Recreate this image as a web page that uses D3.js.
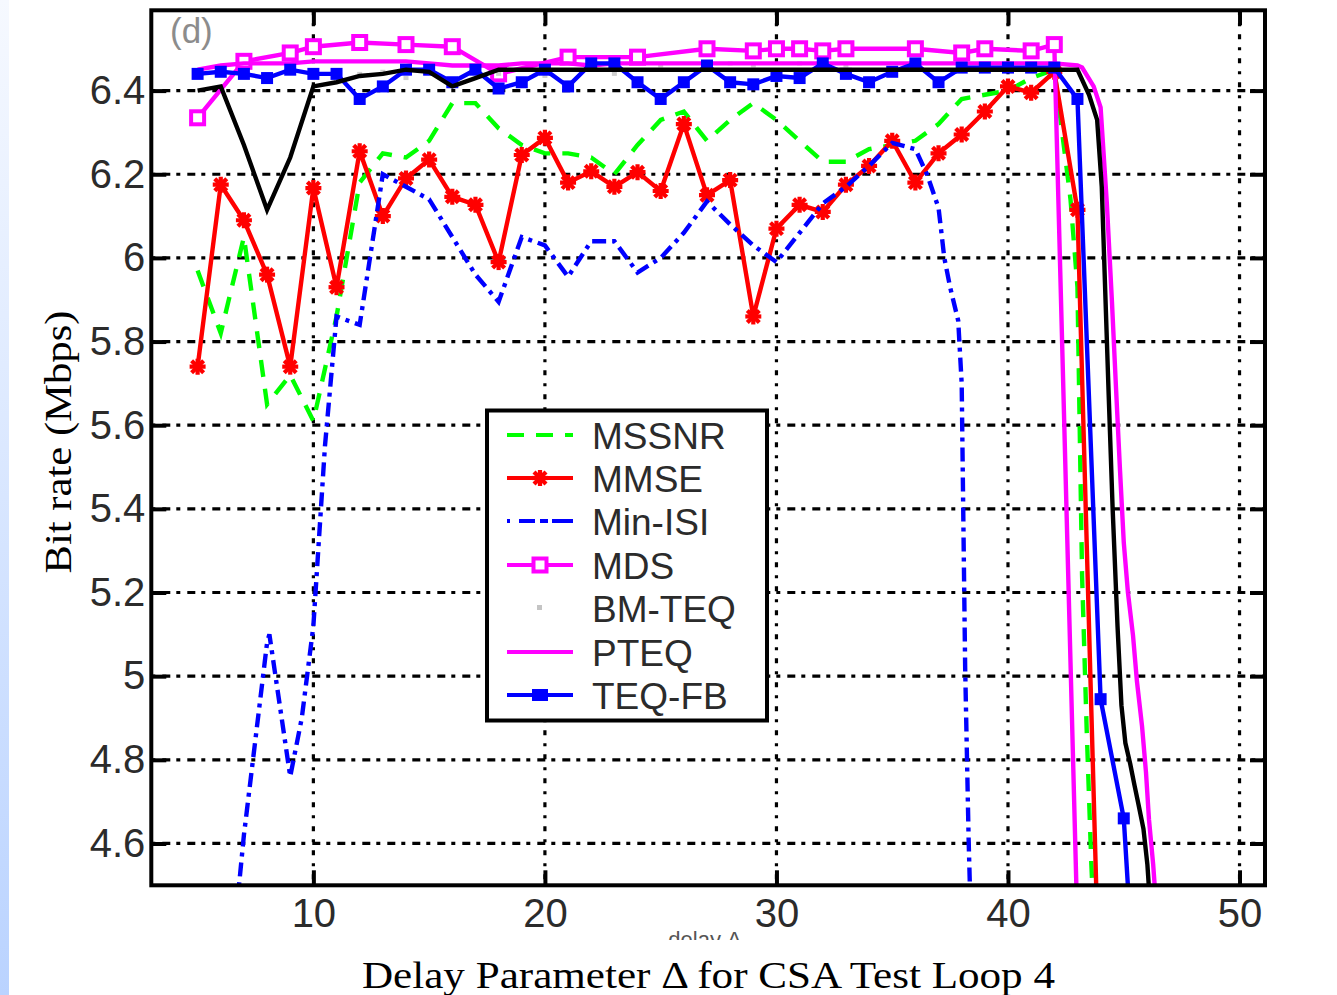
<!DOCTYPE html>
<html><head><meta charset="utf-8">
<script src="https://cdn.jsdelivr.net/npm/d3@7"></script>
<style>body{margin:0;background:#fff}svg{display:block}</style>
</head><body>
<svg id="chart" width="1337" height="995"></svg>
<script>
// Axis ticks
const xTicks = [10, 20, 30, 40, 50];
const yTicks = [4.6, 4.8, 5.0, 5.2, 5.4, 5.6, 5.8, 6.0, 6.2, 6.4];
const yTickLabels = ['4.6', '4.8', '5', '5.2', '5.4', '5.6', '5.8', '6', '6.2', '6.4'];

// Bit rate (Mbps) versus delay parameter, one array of [delay, rate] per equalizer
const mssnr = [[5,5.97],[6,5.82],[7,6.05],[8,5.65],[9,5.72],[10,5.61],[11,5.86],[12,6.18],[13,6.25],[14,6.24],
  [15,6.28],[16,6.37],[17,6.37],[18,6.31],[19,6.27],[20,6.25],[21,6.25],[22,6.24],[23,6.2],[24,6.27],[25,6.33],
  [26,6.35],[27,6.28],[28,6.33],[29,6.37],[30,6.33],[31,6.28],[32,6.23],[33,6.23],[34,6.26],[35,6.27],[36,6.28],
  [37,6.32],[38,6.38],[39,6.39],[40,6.40],[41,6.43],[42,6.45],[42.7,6.14],[43,5.93],[43.2,5.24],[43.4,4.87],
  [43.6,4.55],[43.8,4.3]];

const mmse = [[5,5.74],[6,6.175],[7,6.09],[8,5.96],[9,5.74],[10,6.167],[11,5.93],[12,6.255],[13,6.10],[14,6.19],
  [15,6.235],[16,6.146],[17,6.127],[18,5.99],[19,6.246],[20,6.287],[21,6.18],[22,6.207],[23,6.17],[24,6.205],
  [25,6.16],[26,6.32],[27,6.15],[28,6.186],[29,5.86],[30,6.07],[31,6.127],[32,6.11],[33,6.175],[34,6.22],
  [35,6.28],[36,6.18],[37,6.25],[38,6.295],[39,6.35],[40,6.41],[41,6.395],[42,6.445],[43,6.115],[44,4.12]];

const minIsi = [[6.7,4.45],[7,4.62],[8,5.08],[8.1,5.1],[9,4.76],[9.5,4.9],[10,5.12],[10.5,5.55],[11,5.86],[12,5.84],
  [13,6.2],[14,6.17],[15,6.14],[16,6.05],[17,5.96],[18,5.895],[19,6.05],[20,6.03],[21,5.955],[22,6.04],[23,6.04],
  [24,5.965],[25,6.0],[26,6.06],[27,6.135],[28,6.08],[29,6.03],[30,5.99],[31,6.06],[32,6.13],[33,6.17],[34,6.22],
  [35,6.275],[36,6.26],[36.5,6.2],[37,6.12],[37.25,6.0],[37.5,5.93],[37.85,5.85],[38,5.7],[38.15,5.02],
  [38.3,4.61],[38.45,4.3]];

const mds = [[5,6.335],[7,6.47],[9,6.49],[10,6.505],[12,6.515],[14,6.51],[16,6.505],[18,6.44],[21,6.48],
  [24,6.48],[27,6.5],[29,6.495],[30,6.5],[31,6.5],[32,6.495],[33,6.5],[36,6.5],[38,6.49],[39,6.5],[41,6.495],
  [42,6.51],[43,4.4]];

const bmTeq = [[12,6.44],[13,6.445],[14,6.43],[18,6.44],[20,6.435],[21,6.465],[23,6.44],[25,6.46],[28,6.465],
  [29,6.46],[31,6.465],[33,6.46]];

const pteq = [[5,6.45],[6,6.46],[7,6.465],[8,6.465],[9,6.465],[10,6.47],[11,6.47],[12,6.47],[13,6.47],[14,6.47],
  [15,6.465],[16,6.46],[17,6.46],[18,6.46],[19,6.465],[20,6.465],[21,6.465],[22,6.46],[23,6.465],[24,6.465],
  [25,6.465],[26,6.465],[27,6.465],[28,6.465],[29,6.465],[30,6.465],[31,6.465],[32,6.465],[33,6.465],[34,6.465],
  [35,6.465],[36,6.465],[37,6.465],[38,6.465],[39,6.465],[40,6.465],[41,6.465],[42,6.465],[43,6.46],[43.2,6.455],
  [43.7,6.41],[44,6.36],[44.27,6.13],[44.49,5.895],[44.66,5.695],[44.84,5.49],[45,5.32],[45.18,5.2],[45.4,5.097],
  [45.57,4.987],[45.79,4.88],[45.96,4.77],[46.09,4.657],[46.27,4.55],[46.4,4.45]];

const teqFb = [[5,6.44],[6,6.445],[7,6.44],[8,6.43],[9,6.45],[10,6.44],[11,6.44],[12,6.38],[13,6.41],[14,6.45],
  [15,6.45],[16,6.42],[17,6.45],[18,6.405],[19,6.42],[20,6.45],[21,6.41],[22,6.465],[23,6.465],[24,6.42],
  [25,6.38],[26,6.42],[27,6.46],[28,6.42],[29,6.415],[30,6.435],[31,6.43],[32,6.465],[33,6.44],[34,6.42],
  [35,6.445],[36,6.465],[37,6.42],[38,6.455],[39,6.455],[40,6.455],[41,6.455],[42,6.455],[43,6.38],[44,4.945],
  [45,4.66],[46,3.76]];

const bound = [[5,6.40],[6,6.41],[7,6.27],[8,6.115],[9,6.24],[10,6.41],[11,6.42],[12,6.435],[13,6.44],[14,6.45],
  [15,6.445],[16,6.41],[17,6.43],[18,6.45],[19,6.45],[20,6.45],[21,6.45],[22,6.45],[23,6.45],[24,6.45],[25,6.45],
  [26,6.45],[27,6.45],[28,6.45],[29,6.45],[30,6.45],[31,6.45],[32,6.45],[33,6.45],[34,6.45],[35,6.45],[36,6.45],
  [37,6.45],[38,6.45],[39,6.45],[40,6.45],[41,6.45],[42,6.45],[43,6.45],[43.5,6.39],[43.85,6.33],[44.05,6.17],
  [44.35,5.67],[44.52,5.40],[44.73,5.12],[44.9,4.93],[45.07,4.84],[45.28,4.79],[45.46,4.74],[45.63,4.695],
  [45.85,4.635],[46.02,4.55],[46.2,4.4]];

const legendNames = ['MSSNR', 'MMSE', 'Min-ISI', 'MDS', 'BM-TEQ', 'PTEQ', 'TEQ-FB'];

const GREEN = '#00ff00', RED = '#ff0000', BLUE = '#0000ff', MAGENTA = '#ff00ff';
const LW = 4.4;

const svg = d3.select('#chart');
const defs = svg.append('defs');

// pale blue strip down the left edge
const grad = defs.append('linearGradient').attr('id', 'edge').attr('x1', 0).attr('y1', 0).attr('x2', 0).attr('y2', 1);
grad.append('stop').attr('offset', '0%').attr('stop-color', '#f6f9ff');
grad.append('stop').attr('offset', '100%').attr('stop-color', '#bad3ff');
svg.append('rect').attr('x', 0).attr('y', 0).attr('width', 9).attr('height', 995).attr('fill', 'url(#edge)');

const P = {left: 151.3, right: 1265, top: 10.3, bottom: 885.3};
const x = d3.scaleLinear().domain([3, 51.1]).range([P.left, P.right]);
const y = d3.scaleLinear().domain([4.5, 6.592]).range([P.bottom, P.top]);

defs.append('clipPath').attr('id', 'plotClip').append('rect')
  .attr('x', P.left).attr('y', P.top).attr('width', P.right - P.left).attr('height', P.bottom - P.top);
defs.append('clipPath').attr('id', 'capClip').append('rect')
  .attr('x', 320).attr('y', 931).attr('width', 800).attr('height', 9);

// dotted grid
const grid = svg.append('g').attr('stroke', '#000').attr('stroke-width', 3.2);
grid.selectAll('.hg').data(yTicks).join('line')
  .attr('x1', P.left).attr('x2', P.right).attr('y1', d => y(d)).attr('y2', d => y(d))
  .attr('stroke-dasharray', '4,7,8,6');
grid.selectAll('.vg').data(xTicks).join('line')
  .attr('y1', P.top).attr('y2', P.bottom).attr('x1', d => x(d)).attr('x2', d => x(d))
  .attr('stroke-dasharray', '5,8,3,8');

const plot = svg.append('g').attr('clip-path', 'url(#plotClip)');
const line = d3.line().x(d => x(d[0])).y(d => y(d[1]));

function drawLine(data, color, dash, width) {
  plot.append('path').datum(data).attr('d', line).attr('fill', 'none')
    .attr('stroke', color).attr('stroke-width', width || LW)
    .attr('stroke-linejoin', 'miter').attr('stroke-dasharray', dash || null);
}

function asterisk(g, cx, cy, r, color) {
  const a = g.append('g').attr('transform', `translate(${cx},${cy})`)
    .attr('stroke', color).attr('stroke-width', 4.2);
  [[-r, 0, r, 0], [0, -r, 0, r], [-r * 0.75, -r * 0.75, r * 0.75, r * 0.75], [-r * 0.75, r * 0.75, r * 0.75, -r * 0.75]]
    .forEach(s => a.append('line').attr('x1', s[0]).attr('y1', s[1]).attr('x2', s[2]).attr('y2', s[3]));
}

// MSSNR
drawLine(mssnr, GREEN, '17,12');
// MMSE
drawLine(mmse, RED);
mmse.filter(d => Number.isInteger(d[0])).forEach(d => asterisk(plot, x(d[0]), y(d[1]), 8, RED));
// Min-ISI
drawLine(minIsi, BLUE, '14,6,4,6');
// MDS
drawLine(mds, MAGENTA);
plot.selectAll('.mdsm').data(mds).join('rect')
  .attr('x', d => x(d[0]) - 6.5).attr('y', d => y(d[1]) - 6.5).attr('width', 13).attr('height', 13)
  .attr('fill', '#fff').attr('stroke', MAGENTA).attr('stroke-width', 4);
// BM-TEQ
plot.selectAll('.bm').data(bmTeq).join('rect')
  .attr('x', d => x(d[0]) - 2.5).attr('y', d => y(d[1]) - 2).attr('width', 5).attr('height', 4)
  .attr('fill', '#cfcfcf');
// PTEQ
drawLine(pteq, MAGENTA);
// TEQ-FB
drawLine(teqFb, BLUE);
plot.selectAll('.fbm').data(teqFb.filter(d => Number.isInteger(d[0]))).join('rect')
  .attr('x', d => x(d[0]) - 6).attr('y', d => y(d[1]) - 6).attr('width', 12).attr('height', 12)
  .attr('fill', BLUE);
// upper curve
drawLine(bound, '#000');

// axes with inward ticks
const tickFont = 'Liberation Sans, Arial, sans-serif';
const yAxis = svg.append('g').attr('transform', `translate(${P.left},0)`)
  .call(d3.axisLeft(y).tickValues(yTicks).tickSize(-15).tickPadding(6)
    .tickFormat((d, i) => yTickLabels[i]));
const yAxisR = svg.append('g').attr('transform', `translate(${P.right},0)`)
  .call(d3.axisRight(y).tickValues(yTicks).tickSize(-15).tickFormat(''));
const xAxis = svg.append('g').attr('transform', `translate(0,${P.bottom})`)
  .call(d3.axisBottom(x).tickValues(xTicks).tickSize(-15).tickPadding(13).tickFormat(d3.format('d')));
const xAxisT = svg.append('g').attr('transform', `translate(0,${P.top})`)
  .call(d3.axisTop(x).tickValues(xTicks).tickSize(-15).tickFormat(''));
[yAxis, yAxisR, xAxis, xAxisT].forEach(a => {
  a.select('.domain').remove();
  a.selectAll('.tick line').attr('stroke', '#000').attr('stroke-width', 4);
  a.selectAll('text').attr('font-family', tickFont).attr('font-size', 40).attr('fill', '#2b2b2b');
});

// frame
svg.append('rect').attr('x', P.left).attr('y', P.top).attr('width', P.right - P.left).attr('height', P.bottom - P.top)
  .attr('fill', 'none').attr('stroke', '#000').attr('stroke-width', 4);

// panel tag
svg.append('text').attr('x', 170).attr('y', 43).attr('font-family', tickFont).attr('font-size', 35)
  .attr('fill', '#8c8c8c').text('(d)');

// legend
const L = {x: 487, y: 410.5, w: 280, h: 310};
const lg = svg.append('g');
lg.append('rect').attr('x', L.x).attr('y', L.y).attr('width', L.w).attr('height', L.h)
  .attr('fill', '#fff').attr('stroke', '#000').attr('stroke-width', 4);
const rowY = [435, 478, 521, 565, 608, 652, 695];
const lx1 = 507, lx2 = 573, lmid = 540;
legendNames.forEach((name, i) => {
  const yy = rowY[i];
  if (name === 'MSSNR') lg.append('line').attr('x1', lx1).attr('x2', lx2).attr('y1', yy).attr('y2', yy)
    .attr('stroke', GREEN).attr('stroke-width', 4).attr('stroke-dasharray', '17,12');
  if (name === 'MMSE') {
    lg.append('line').attr('x1', lx1).attr('x2', lx2).attr('y1', yy).attr('y2', yy).attr('stroke', RED).attr('stroke-width', 4);
    asterisk(lg, lmid, yy, 8, RED);
  }
  if (name === 'Min-ISI') lg.append('line').attr('x1', lx1).attr('x2', lx2).attr('y1', yy).attr('y2', yy)
    .attr('stroke', BLUE).attr('stroke-width', 4).attr('stroke-dasharray', '3,9,16,5,8,4,22');
  if (name === 'MDS') {
    lg.append('line').attr('x1', lx1).attr('x2', lx2).attr('y1', yy).attr('y2', yy).attr('stroke', MAGENTA).attr('stroke-width', 4);
    lg.append('rect').attr('x', lmid - 6.5).attr('y', yy - 6.5).attr('width', 13).attr('height', 13)
      .attr('fill', '#fff').attr('stroke', MAGENTA).attr('stroke-width', 4);
  }
  if (name === 'BM-TEQ') lg.append('rect').attr('x', lmid - 3).attr('y', yy - 3).attr('width', 5).attr('height', 5).attr('fill', '#c4c4c4');
  if (name === 'PTEQ') lg.append('line').attr('x1', lx1).attr('x2', lx2).attr('y1', yy).attr('y2', yy).attr('stroke', MAGENTA).attr('stroke-width', 4);
  if (name === 'TEQ-FB') {
    lg.append('line').attr('x1', lx1).attr('x2', lx2).attr('y1', yy).attr('y2', yy).attr('stroke', BLUE).attr('stroke-width', 4);
    lg.append('rect').attr('x', lmid - 8).attr('y', yy - 6).attr('width', 16).attr('height', 12).attr('fill', BLUE);
  }
  lg.append('text').attr('x', 592).attr('y', yy + 13.5).attr('font-family', tickFont).attr('font-size', 37)
    .attr('fill', '#2b2b2b').text(name);
});

// older axis caption: only the tops of its letters show above the typeset caption
svg.append('text').attr('x', 705).attr('y', 947).attr('text-anchor', 'middle').attr('font-family', tickFont)
  .attr('font-size', 22).attr('fill', '#555').attr('clip-path', 'url(#capClip)').text('delay Δ');

// axis titles
const serif = 'Liberation Serif, Times New Roman, serif';
svg.append('text').attr('x', 362).attr('y', 988).attr('font-family', serif).attr('font-size', 37)
  .attr('textLength', 693).attr('lengthAdjust', 'spacingAndGlyphs').attr('fill', '#000')
  .text('Delay Parameter Δ for CSA Test Loop 4');
svg.append('text').attr('transform', 'translate(71,442) rotate(-90)').attr('text-anchor', 'middle')
  .attr('font-family', serif).attr('font-size', 38).attr('textLength', 263).attr('lengthAdjust', 'spacingAndGlyphs')
  .attr('fill', '#000').text('Bit rate (Mbps)');
</script>
</body></html>
